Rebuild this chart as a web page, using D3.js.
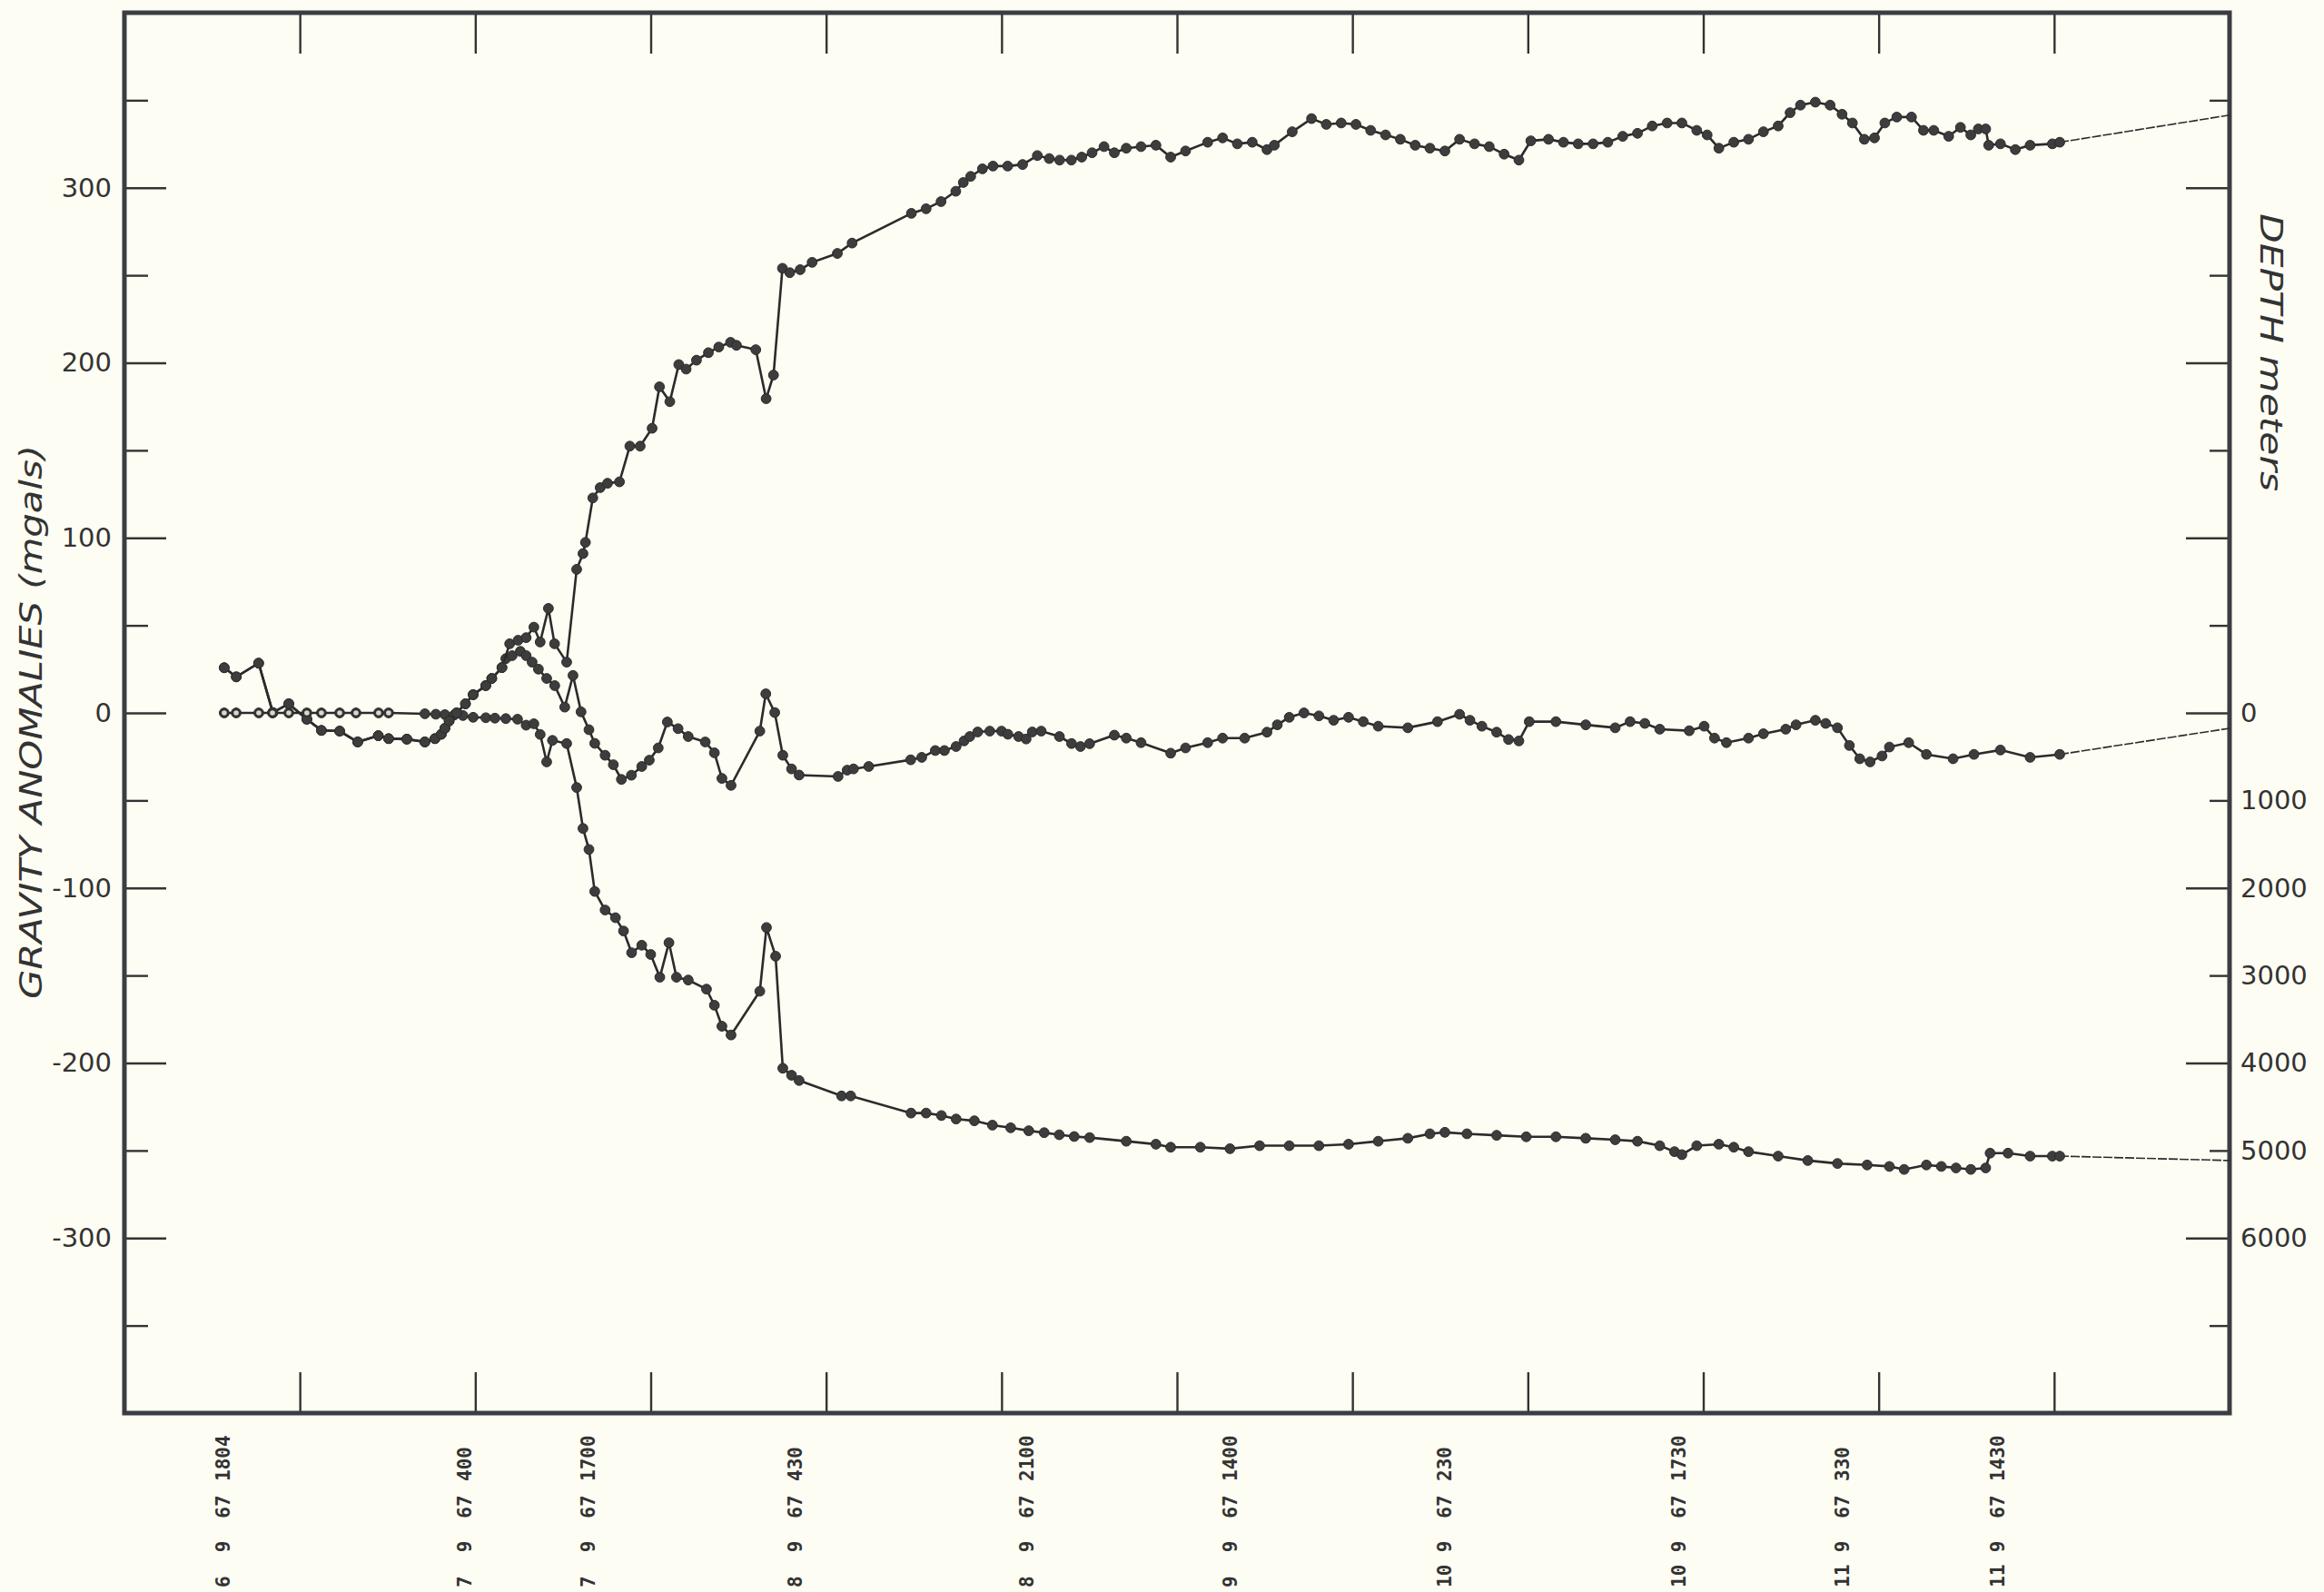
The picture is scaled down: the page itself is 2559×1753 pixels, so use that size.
<!DOCTYPE html>
<html>
<head>
<meta charset="utf-8">
<title>Gravity anomalies and depth</title>
<script src="https://cdnjs.cloudflare.com/ajax/libs/d3/7.8.5/d3.min.js"></script>
<style>
    body { margin: 0; background: #fefdf3; }
    text { fill: #333; }
</style>
</head>
<body>
<script>
// distance along track (one frame tick = 100), value in mgals
var freeAir = [
    [56.9,25.8],[63.8,20.6],[76.5,28.4],[84.6,0.2],[93.7,5.2],[104,-3.6],[112.3,-10],[122.7,-10.4],[133,-16.6],
    [144.7,-13],[150.6,-14.7],[161,-15],[171.3,-16.6],[177,-14.7],[180.6,-12.2],[182.7,-8.8],[185.1,-4.6],
    [189.4,0],[194.4,5.2],[198.8,10.4],[206,15.6],[209.4,19.7],[215.2,25.9],[217.4,31],[221,32.7],[225.7,35.2],
    [229,32.7],[232.4,29],[236,25],[240.7,19.7],[245.3,15.6],[251,3.3],[255.7,21.4],[260.3,0.6],[264.8,-9.6],
    [268.1,-17.4],[274,-24.2],[278.7,-29.6],[283.3,-38],[289,-35.6],[294.9,-30.6],[299.2,-27],[304.3,-20],
    [309.5,-5.2],[315.6,-9],[321.4,-13.5],[331.1,-16.6],[336.3,-22.8],[340.6,-37.4],[345.8,-41.4],[362.2,-10.4],
    [365.6,10.9],[370.7,0.2],[375.3,-24.2],[380.3,-32],[384.6,-35.5],[406.8,-36.3],[412,-32.7],[415.6,-32],
    [424.3,-30.6],[448.2,-26.8],[454.5,-25.4],[462.2,-21.5],[467.4,-21.5],[474.1,-19.2],[478.6,-16],[481.9,-13.5],
    [486.4,-10.9],[493.3,-10.4],[500,-10.4],[503.6,-12.2],[509.7,-13.5],[514,-14.9],[517.5,-10.9],[522.6,-10.4],
    [533,-13.5],[539.9,-17.5],[545,-19.2],[550.2,-17.6],[564.3,-12.7],[571.1,-14.4],[579.5,-17],[596.4,-23],
    [604.9,-20],[617.5,-17],[626,-14.4],[638.6,-14.4],[651.3,-11],[657.2,-6.8],[664,-2.5],[672.4,0],[680.9,-1.7],
    [689.3,-4.2],[697.8,-2.5],[706.2,-5],[714.7,-7.6],[731.6,-8.5],[748.5,-5],[761.1,-0.8],[767,-4.2],[773.8,-7.6],
    [782.2,-11],[789,-15.2],[794.9,-16],[800.8,-5],[816,-5],[833,-6.8],[849.8,-8.5],[858.3,-5],[866.7,-6],
    [875.2,-9.3],[892,-10.2],[900.5,-7.6],[906.4,-14.4],[913.2,-17],[925.8,-14.4],[934.3,-11.9],[947,-9.3],
    [952.9,-6.8],[963.9,-4.2],[969.8,-6],[976.5,-8.5],[983.3,-18.6],[989.2,-26.2],[995.1,-28],[1001.9,-24.6],
    [1006.1,-19.5],[1017.1,-17],[1027.2,-23.7],[1042.4,-26.2],[1054.3,-23.7],[1069.4,-21.2],[1086.3,-25.4],
    [1103.2,-23.7]
];
var bouguer = [
    [56.9,25.8],[63.8,20.6],[76.5,28.4],[84.6,0.2],[93.7,5.2],[104,-3.6],[112.3,-10],[122.7,-10.4],[133,-16.6],
    [144.7,-13],[150.6,-14.7],[161,-15],[171.3,-16.6],[177,-14.7],[180.6,-12.2],[182.7,-8.8],[185.1,-4.6],
    [189.4,0],[194.4,5.2],[198.8,10.4],[206,15.6],[209.4,19.7],[215.2,25.9],[219.6,39.5],[224.4,41.5],[229,43],
    [233.4,49],[237,40.5],[241.7,59.7],[245.2,39.5],[252.1,29],[257.8,82],[261.4,91],[262.8,97.4],[267,122.8],
    [271.2,128.7],[275.4,131.2],[282.2,132],[288.1,152.4],[294,152.4],[300.8,162.6],[305,186.3],[310.9,177.8],
    [316,199],[320.2,196.4],[326.1,201.5],[332.9,205.8],[338.8,209],[345.5,211.7],[348.9,210],[359.9,207.5],
    [365.8,179.5],[370,193],[375.1,254],[379.3,251.5],[385.2,253.2],[392,257.4],[406.4,262.5],[414.8,268.4],
    [448.6,285.4],[457,288],[465.5,292.1],[473.9,298],[478.2,303],[482.4,306.5],[489.1,310.8],[495.1,312.4],
    [503.5,312.4],[512,313.3],[520.4,318.4],[527.2,316.7],[533.1,315.8],[539.8,315.8],[545.7,317.5],[551.6,320],
    [558.4,323.5],[564.3,320],[571.1,322.6],[579.5,323.5],[588,324.3],[596.4,317.5],[604.9,321],[617.5,326],
    [626,328.5],[634.4,325.1],[642.9,326],[651.3,321.8],[655.5,324.3],[665.7,332],[676.7,339.5],[685.1,336.2],
    [693.6,337],[702,336.2],[710.4,332.8],[718.9,330.2],[727.3,327.7],[735.8,324.3],[744.2,322.6],[752.7,321],
    [761.1,327.7],[769.6,325.1],[778,323.5],[786.5,319.2],[794.9,315.8],[801.7,326.8],[811.8,327.7],[820.3,326],
    [828.7,325.1],[837.2,325.1],[845.6,326],[854.1,329.4],[862.5,331.1],[870.9,335.3],[879.4,337],[887.8,337],
    [896.3,332.8],[902.2,330.2],[908.9,322.6],[917.4,326],[925.8,327.7],[934.3,332],[942.7,335.3],[949.5,342.9],
    [955.4,347.2],[963.9,348.9],[972.3,347.2],[979.1,342],[985,337],[991.8,327.7],[997.6,328.5],[1003.5,337],
    [1010.3,340.4],[1018.7,340.4],[1025.5,332.8],[1031.4,332.8],[1039.9,329.4],[1046.6,334.5],[1052.5,330.2],
    [1056.8,333.6],[1061,333.6],[1062.7,324.3],[1069.4,325.1],[1077.9,321.8],[1086.3,324.3],[1099,325.1],
    [1103.2,326]
];
// depth in meters
var depth = [
    [56.9,0],[63.7,0],[76.6,0],[84.4,0],[93.7,0],[104,0],[112.3,0],[122.7,0],[132,0],[144.9,0],[150.6,0],
    [171.3,10],[177.5,15],[182.7,20],[187.9,25],[193,30],[198.8,50],[206,55],[211.2,60],[217.4,65],[224.1,72],
    [229,140],[233.4,124],[237,246],[240.7,560],[244,314],[252.1,350],[257.8,852],[261.4,1320],[264.8,1560],
    [268.1,2040],[274,2252],[279.9,2340],[284.5,2492],[289.1,2740],[294.9,2654],[300,2760],[305.2,3020],
    [310.4,2626],[314.7,3020],[321.4,3052],[331.8,3156],[336.3,3340],[340.6,3580],[345.8,3680],[362.2,3180],
    [366,2452],[371.2,2780],[375.3,4060],[380.3,4140],[384.6,4200],[408.8,4376],[414,4376],[448.4,4572],
    [457,4572],[465.7,4600],[474.1,4640],[484.5,4660],[494.8,4710],[505.2,4740],[515.5,4774],[524.3,4796],
    [532.9,4820],[541.4,4840],[550.2,4852],[571.1,4894],[588,4928],[596.4,4962],[613.3,4962],[630.2,4979],
    [647.1,4945],[664,4945],[680.9,4945],[697.8,4928],[714.7,4894],[731.6,4860],[744.2,4809],[752.7,4792],
    [765.3,4809],[782.2,4826],[799.1,4843],[816,4843],[833,4860],[849.8,4877],[862.5,4894],[875.2,4945],
    [883.6,5013],[887.8,5047],[896.3,4945],[908.9,4928],[917.4,4962],[925.8,5013],[942.7,5064],[959.6,5114],
    [976.5,5148],[993.4,5165],[1006.1,5182],[1014.5,5216],[1027.2,5165],[1035.7,5182],[1044.1,5199],
    [1052.5,5216],[1061,5199],[1063.5,5030],[1073.7,5030],[1086.3,5064],[1099,5064],[1103.2,5064]
];
// each profile runs on to the right edge without stations
var freeAirEnd = [1200, -8.8];
var bouguerEnd = [1200, 341.5];
var depthEnd = [1200, 5114];

// station labels: day month year time
var stationDist = [55.9, 193.6, 264.5, 382.5, 514.5, 630.4, 752.6, 886.1, 979.3, 1067.8];
var stationDay = ["6", "7", "7", "8", "8", "9", "10", "10", "11", "11"];
var stationMonth = ["9", "9", "9", "9", "9", "9", "9", "9", "9", "9"];
var stationYear = ["67", "67", "67", "67", "67", "67", "67", "67", "67", "67"];
var stationTime = ["1804", "400", "1700", "430", "2100", "1400", "230", "1730", "330", "1430"];

var gravTicks = [-300, -200, -100, 0, 100, 200, 300];
var depthTicks = [0, 1000, 2000, 3000, 4000, 5000, 6000];

var W = 2559, H = 1753;
var L = 137, R = 2455, T = 14, B = 1556;

var svg = d3.select("body").append("svg")
    .attr("width", W).attr("height", H);
svg.append("rect").attr("width", W).attr("height", H).attr("fill", "#fefdf3");

var x = d3.scaleLinear().domain([0, 1200]).range([L, R]);
var y = d3.scaleLinear().domain([-400, 400]).range([B, T]);
var yd = d3.scaleLinear().domain([8000, -8000]).range([B, T]);

var plain = function(d) { return String(d); };

function styleAxis(g) {
    g.select(".domain").remove();
    g.selectAll("line").attr("stroke", "#333").attr("stroke-width", 2.4);
    g.selectAll("text").attr("font-family", "DejaVu Sans").attr("font-size", 29).attr("fill", "#333");
}

// left axis
svg.append("g").attr("transform", "translate(" + L + ",0)")
    .call(d3.axisLeft(y).tickValues(gravTicks).tickFormat(plain).tickSizeInner(-46).tickSizeOuter(0).tickPadding(14))
    .call(styleAxis);
svg.append("g").attr("transform", "translate(" + L + ",0)")
    .call(d3.axisLeft(y).tickValues(d3.range(-350, 351, 100)).tickSizeInner(-26).tickSizeOuter(0).tickFormat(""))
    .call(styleAxis);

// right axis (depth)
svg.append("g").attr("transform", "translate(" + R + ",0)")
    .call(d3.axisRight(yd).tickValues(d3.range(-6000, 6001, 2000)).tickSizeInner(-48).tickSizeOuter(0).tickFormat(""))
    .call(styleAxis);
svg.append("g").attr("transform", "translate(" + R + ",0)")
    .call(d3.axisRight(yd).tickValues(d3.range(-7000, 7001, 2000)).tickSizeInner(-22).tickSizeOuter(0).tickFormat(""))
    .call(styleAxis);
svg.append("g").attr("transform", "translate(" + R + ",0)")
    .call(d3.axisRight(yd).tickValues(depthTicks).tickFormat(plain).tickSize(0).tickPadding(12))
    .call(styleAxis);

// top and bottom ticks
svg.append("g").attr("transform", "translate(0," + B + ")")
    .call(d3.axisBottom(x).tickValues(d3.range(100, 1101, 100)).tickSizeInner(-45).tickSizeOuter(0).tickFormat(""))
    .call(styleAxis);
svg.append("g").attr("transform", "translate(0," + T + ")")
    .call(d3.axisTop(x).tickValues(d3.range(100, 1101, 100)).tickSizeInner(-45).tickSizeOuter(0).tickFormat(""))
    .call(styleAxis);

// frame
svg.append("rect")
    .attr("x", L).attr("y", T).attr("width", R - L).attr("height", B - T)
    .attr("fill", "none").attr("stroke", "#3a3d42").attr("stroke-width", 5);

// axis titles
svg.append("text")
    .attr("transform", "translate(46,795) rotate(-90)")
    .attr("text-anchor", "middle")
    .attr("font-family", "DejaVu Sans")
    .style("font-stretch", "condensed")
    .attr("font-style", "italic").attr("font-size", 34)
    .attr("textLength", 610).attr("lengthAdjust", "spacingAndGlyphs")
    .text("GRAVITY ANOMALIES (mgals)");
svg.append("text")
    .attr("transform", "translate(2489,388) rotate(90)")
    .attr("text-anchor", "middle")
    .attr("font-family", "DejaVu Sans")
    .style("font-stretch", "condensed")
    .attr("font-style", "italic").attr("font-size", 34)
    .attr("textLength", 306).attr("lengthAdjust", "spacingAndGlyphs")
    .text("DEPTH meters");

// station labels along the bottom
var labels = svg.append("g").attr("font-family", "DejaVu Sans Mono").attr("font-weight", "bold").attr("font-size", 21);
stationDist.forEach(function(d, i) {
    var px = x(d);
    var parts = [
        {t: stationDay[i], y: 1748, a: "start"},
        {t: stationMonth[i], y: 1703, a: "middle"},
        {t: stationYear[i], y: 1659, a: "middle"},
        {t: stationTime[i], y: 1631, a: "start"}
    ];
    parts.forEach(function(p) {
        labels.append("text")
            .attr("transform", "translate(" + px + "," + p.y + ") rotate(-90)")
            .attr("text-anchor", p.a).attr("dy", "0.36em")
            .attr("fill", "#444")
            .text(p.t);
    });
});

// profiles
function drawProfile(pts, end, ys) {
    var line = d3.line().x(function(d){ return x(d[0]); }).y(function(d){ return ys(d[1]); });
    svg.append("path").datum(pts).attr("d", line)
        .attr("fill", "none").attr("stroke", "#2b2b2b").attr("stroke-width", 2.6);
    svg.append("path").datum([pts[pts.length - 1], end]).attr("d", line)
        .attr("fill", "none").attr("stroke", "#2b2b2b").attr("stroke-width", 1.6)
        .attr("stroke-dasharray", "10,2");
    svg.append("g").selectAll("circle").data(pts).enter().append("circle")
        .attr("cx", function(d){ return x(d[0]); })
        .attr("cy", function(d){ return ys(d[1]); })
        .attr("r", 5.4)
        .attr("fill", "#3d3d3d").attr("stroke", "#2b2b2b").attr("stroke-width", 1);
}

drawProfile(depth, depthEnd, yd);
drawProfile(freeAir, freeAirEnd, y);
drawProfile(bouguer, bouguerEnd, y);

// stations on the shelf, depth zero: smaller open marks
svg.append("g").selectAll("circle").data(depth.filter(function(d){ return d[1] === 0; })).enter().append("circle")
    .attr("cx", function(d){ return x(d[0]); })
    .attr("cy", function(d){ return yd(d[1]); })
    .attr("r", 3.8)
    .attr("fill", "#d9d8cf").attr("stroke", "#333").attr("stroke-width", 2);
</script>
</body>
</html>
